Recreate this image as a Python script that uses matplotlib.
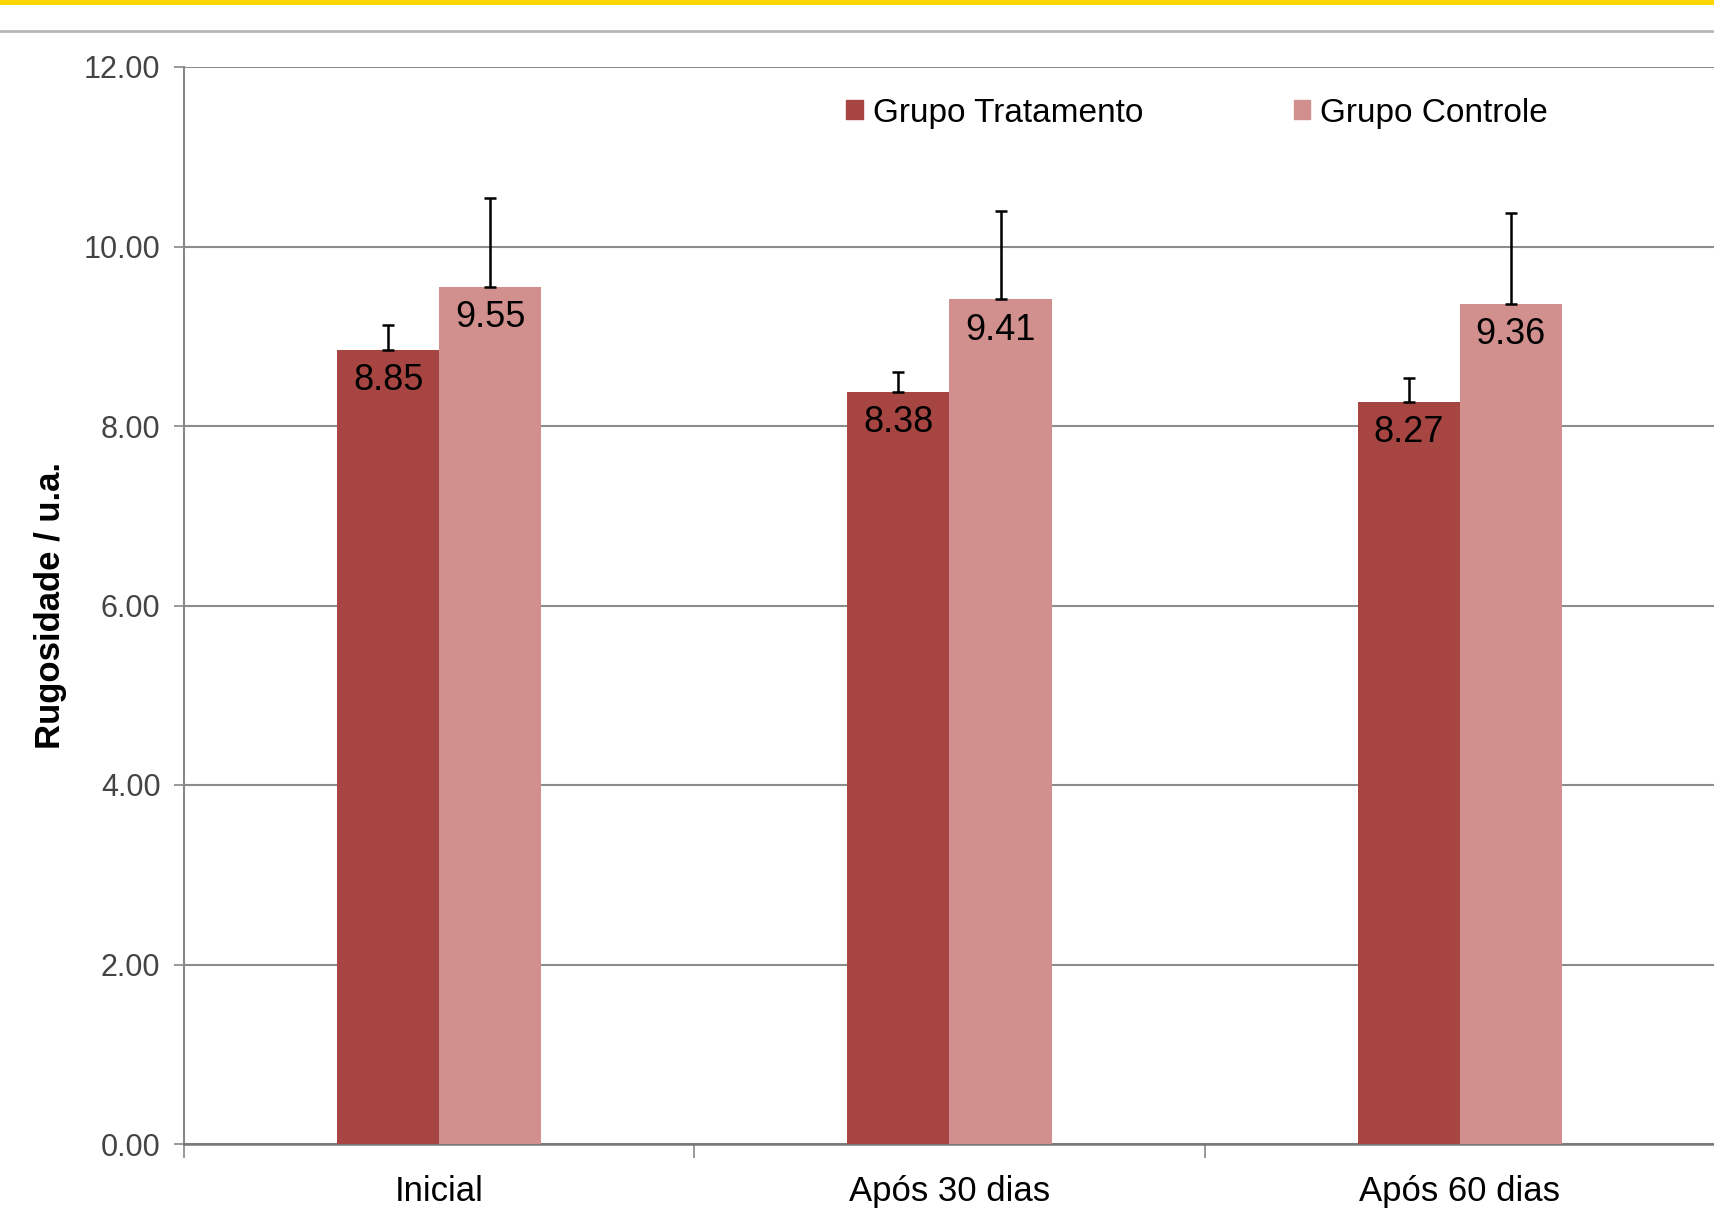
import matplotlib
matplotlib.use("Agg")
import matplotlib.pyplot as plt
from matplotlib.patches import Patch, Rectangle
from matplotlib.lines import Line2D
import numpy as np

plt.rcParams['font.family'] = ['Liberation Sans', 'DejaVu Sans']

categorias = ["Inicial", "Após 30 dias", "Após 60 dias"]
tratamento = [8.85, 8.38, 8.27]
controle = [9.55, 9.41, 9.36]
erro_tratamento = [0.28, 0.22, 0.26]
erro_controle = [0.99, 0.98, 1.01]
yticks = [0, 2, 4, 6, 8, 10, 12]

cor_trat = '#A64541'
cor_ctrl = '#D18F8E'

W, H = 1715, 1208
fig = plt.figure(figsize=(W / 100, H / 100), dpi=100)

# barra amarela e linha cinza no topo
fig.add_artist(Rectangle((0, 1 - 5 / H), 1, 5 / H, transform=fig.transFigure,
                         color='#FFD700', lw=0))
fig.add_artist(Line2D([0, 1], [1 - 31 / H] * 2, transform=fig.transFigure,
                      color='#b8b8b8', lw=2))

ax = fig.add_axes([184 / W, 1 - 1144 / H, 1 - 184 / W, (1144 - 67) / H])

x = np.arange(len(categorias))
larg = 0.2
ax.bar(x - larg / 2, tratamento, larg, color=cor_trat, zorder=3)
ax.bar(x + larg / 2, controle, larg, color=cor_ctrl, zorder=3)
ax.errorbar(x - larg / 2, tratamento, yerr=[[0] * 3, erro_tratamento], fmt='none',
            ecolor='black', elinewidth=1.8, capsize=4.5, capthick=1.8, zorder=4)
ax.errorbar(x + larg / 2, controle, yerr=[[0] * 3, erro_controle], fmt='none',
            ecolor='black', elinewidth=1.8, capsize=4.5, capthick=1.8, zorder=4)

for xi, v in zip(x - larg / 2, tratamento):
    ax.annotate(f"{v:.2f}", (xi, v), xytext=(0, -22), textcoords='offset points',
                ha='center', va='center', fontsize=26, color='black', zorder=5)
for xi, v in zip(x + larg / 2, controle):
    ax.annotate(f"{v:.2f}", (xi, v), xytext=(0, -22), textcoords='offset points',
                ha='center', va='center', fontsize=26, color='black', zorder=5)

ax.set_xlim(-0.5, 2.479)
ax.set_ylim(0, 12)
ax.set_yticks(yticks)
ax.set_yticklabels([f"{t:.2f}" for t in yticks], fontsize=22, color='#444444')
ax.yaxis.grid(True, color='#8c8c8c', lw=1.5, zorder=0)
ax.tick_params(axis='y', length=7, width=1.2, color='#888888', pad=10)

ax.set_xticks(x)
ax.set_xticklabels(categorias, fontsize=25)
ax.set_xticks([-0.5, 0.5, 1.5, 2.5], minor=True)
ax.tick_params(axis='x', which='major', length=0, pad=22)
ax.tick_params(axis='x', which='minor', length=10, width=1.2, color='#888888')

for s in ['top', 'right']:
    ax.spines[s].set_visible(False)
ax.spines['left'].set_color('#888888')
ax.spines['left'].set_linewidth(1.5)
ax.spines['bottom'].set_color('#777777')
ax.spines['bottom'].set_linewidth(1.8)

ax.set_ylabel("Rugosidade / u.a.", fontsize=25, labelpad=12, fontweight='semibold')

handles = [Patch(color=cor_trat), Patch(color=cor_ctrl)]
ax.legend(handles, ["Grupo Tratamento", "Grupo Controle"], ncol=2,
          loc='center left', bbox_to_anchor=(0.424, 0.957), frameon=False,
          fontsize=24, handlelength=0.5, handleheight=0.5, handletextpad=0.3,
          columnspacing=4.5, borderaxespad=0)

fig.savefig("out.png", dpi=100)
